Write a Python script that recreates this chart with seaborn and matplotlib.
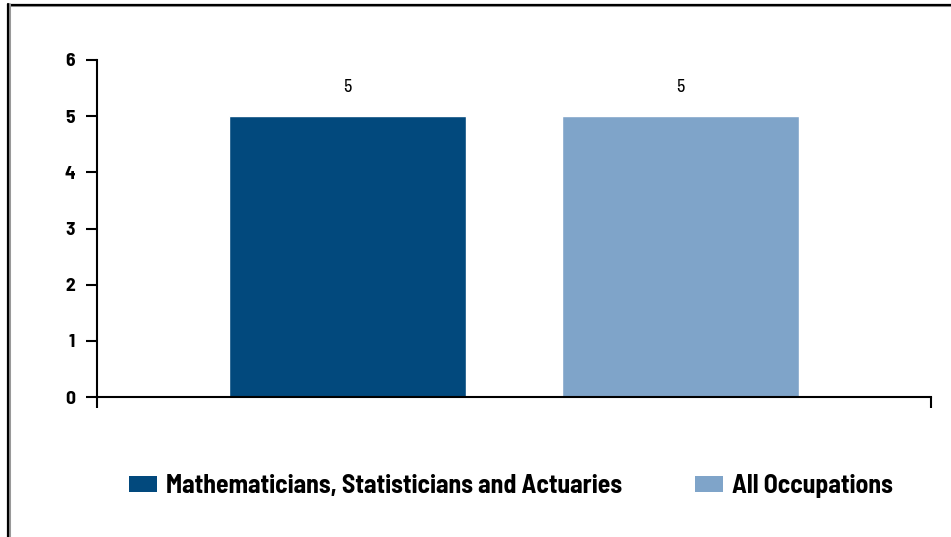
import matplotlib
matplotlib.use("Agg")
import matplotlib.pyplot as plt
from matplotlib.lines import Line2D
import seaborn as sns
import pandas as pd

# Data
series = ["Mathematicians, Statisticians and Actuaries", "All Occupations"]
values = [5, 5]
colors = ["#02497D", "#7FA4C9"]
y_ticks = [0, 1, 2, 3, 4, 5, 6]

df = pd.DataFrame({"group": [""] * len(series), "series": series, "value": values})

sns.set_theme(style="white")
bold_font = ["Barlow Semi Condensed", "DejaVu Sans"]
plain_font = ["Archivo Narrow", "DejaVu Sans"]
plt.rcParams["font.family"] = bold_font

W, H = 951, 537
fig = plt.figure(figsize=(W / 100, H / 100), dpi=100)
ax = fig.add_axes([97 / W, 1 - 397 / H, (931 - 97) / W, (397 - 60) / H])

sns.barplot(data=df, x="group", y="value", hue="series", hue_order=series,
            palette=colors, width=0.8, gap=0.29, saturation=1, ax=ax,
            legend=False, errorbar=None)

for cont in ax.containers:
    ax.bar_label(cont, labels=[f"{v:g}" for v in cont.datavalues],
                 padding=15, fontsize=13, color="black", family=plain_font)

ax.set_xlim(-0.5, 0.5)
ax.set_ylim(0, 6)
ax.set_yticks(y_ticks)
ax.set_yticklabels([str(t) for t in y_ticks], fontsize=14, fontweight="bold",
                   family=bold_font, color="black")
ax.set_xticks([-0.5, 0.5])
ax.set_xticklabels(["", ""])
ax.set_xlabel("")
ax.set_ylabel("")
ax.tick_params(axis="both", direction="out", length=8, width=1.5, color="black",
               left=True, bottom=True, pad=8)
ax.tick_params(axis="x", pad=0)
for side in ["top", "right"]:
    ax.spines[side].set_visible(False)
for side in ["left", "bottom"]:
    ax.spines[side].set_color("black")
    ax.spines[side].set_linewidth(1.5)

# Legend below the plot
handles = [plt.Rectangle((0, 0), 1, 1, facecolor=c, edgecolor="none") for c in colors]
leg = fig.legend(handles, series, loc="center", bbox_to_anchor=(511 / W, 1 - 486 / H),
                 ncol=2, frameon=False, handlelength=1.09, handleheight=0.62,
                 handletextpad=0.35, columnspacing=2.84,
                 prop={"family": bold_font, "weight": "bold", "size": 18.5})
for t in leg.get_texts():
    t.set_color("black")

# Frame lines along the top and left edges
fig.add_artist(Line2D([8 / W, 1], [1 - 5 / H, 1 - 5 / H], transform=fig.transFigure,
                      color="#999999", lw=2.2))
fig.add_artist(Line2D([8 / W, 1], [1 - 4.5 / H, 1 - 4.5 / H], transform=fig.transFigure,
                      color="black", lw=1.6))
fig.add_artist(Line2D([8.5 / W, 8.5 / W], [0, 1 - 4 / H], transform=fig.transFigure,
                      color="#999999", lw=2.2))
fig.add_artist(Line2D([8 / W, 8 / W], [0, 1 - 4 / H], transform=fig.transFigure,
                      color="black", lw=1.6))

fig.savefig("out.png", dpi=100)
